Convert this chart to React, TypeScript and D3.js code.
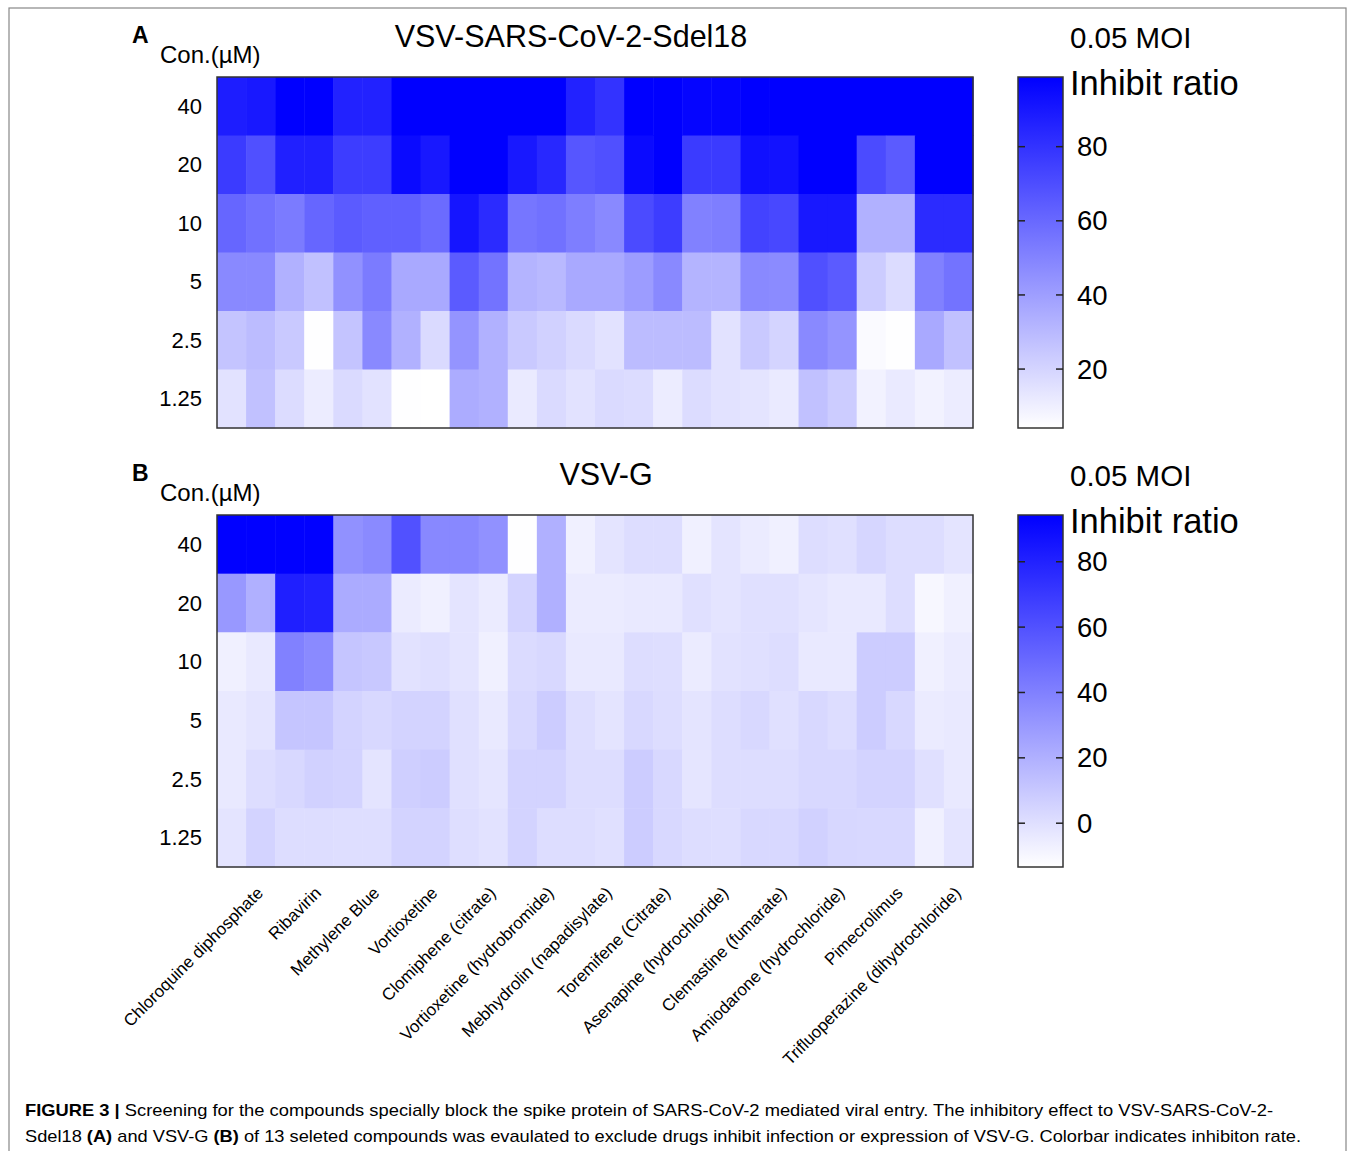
import React from 'react';
import * as d3 from 'd3';

const compounds = [
  'Chloroquine diphosphate', 'Ribavirin', 'Methylene Blue', 'Vortioxetine',
  'Clomiphene (citrate)', 'Vortioxetine (hydrobromide)', 'Mebhydrolin (napadisylate)',
  'Toremifene (Citrate)', 'Asenapine (hydrochloride)', 'Clemastine (fumarate)',
  'Amiodarone (hydrochloride)', 'Pimecrolimus', 'Trifluoperazine (dihydrochloride)'
];
const concentrations = ['40', '20', '10', '5', '2.5', '1.25'];
const replicates = ['r1', 'r2'];

// inhibit ratio, 26 columns (13 compounds x 2 replicates) per concentration
const sdel18Rows = [
  [88, 90, 99, 99, 86, 86, 99, 99, 99, 99, 99, 99, 86, 80, 99, 99, 97, 97, 99, 99, 99, 99, 99, 99, 99, 99],
  [77, 69, 87, 87, 76, 76, 95, 90, 99, 99, 90, 84, 67, 69, 95, 99, 77, 77, 93, 92, 99, 99, 71, 65, 99, 99],
  [61, 57, 53, 61, 65, 63, 63, 59, 91, 83, 55, 57, 52, 48, 71, 76, 51, 52, 74, 72, 90, 90, 33, 33, 83, 83],
  [48, 48, 33, 27, 45, 53, 36, 36, 65, 56, 32, 30, 36, 36, 41, 48, 32, 32, 48, 47, 69, 65, 23, 17, 51, 56],
  [26, 29, 24, 4.5, 26, 48, 33, 18, 44, 33, 24, 21, 18, 15, 29, 29, 29, 15, 24, 20, 48, 44, 6, 4.5, 36, 27],
  [15, 27, 17, 11, 18, 15, 4.5, 4, 35, 33, 12, 18, 15, 18, 17, 11, 17, 15, 14, 12, 27, 23, 9, 12, 9, 11]
];
const vsvgRows = [
  [94, 94, 94, 94, 33, 36, 60, 37, 37, 33, -13, 20, -7, -2, 1, 1, -7, -2, -5, -7, 1, -0.5, 4, 1, 1, -2],
  [30, 20, 81, 80, 22, 22, -5, -7, -2, -5, 5, 20, -5, -5, -4, -4, -0.5, -2, -0.5, -0.5, -2.5, -4, -4, 1, -10, -7],
  [-7, -4, 40, 36, 11, 10, -1, 0, -2, -7, 2, 3, -4, -4, 1, 0.5, -5, -1, -0.5, 1, -4, -4, 8, 8, -7, -5],
  [-4, -2, 11, 11, 5, 3, 5, 5, -0.5, -4, 3, 8, 0.5, -2, 3, 1, -2, 1, 3, -0.5, 3, 1, 8, 3, -5, -4],
  [-4, 1, 3, 6, 5, -2, 7, 8, -0.5, -2.5, 5, 5, 1, 1, 8, 3, -2.5, 1, 1, 1, 3, 3, 5, 5, -0.5, -4],
  [-2, 5, 1, 1, 0.5, 0.5, 5, 5, 0.5, -1, 5, 1, 1, -0.5, 8, 3, 1, 0.5, 3, 3, 6, 3.5, 3, 3, -7, -2]
];
const sdel18Domain = [4.1, 98.8];
const vsvgDomain = [-13.4, 94.3];
const sdel18Ticks = [20, 40, 60, 80];
const vsvgTicks = [0, 20, 40, 60, 80];

const FONT = '"Liberation Sans", Arial, Helvetica, sans-serif';
const W = 1355;
const H = 1151;
const heatLeft = 217;
const heatRight = 973;
const barLeft = 1018;
const barW = 45;

const columns = compounds.flatMap(c => replicates.map(r => `${c}|${r}`));
const x = d3.scaleBand().domain(columns).range([heatLeft, heatRight]);
const xCompound = d3.scaleBand().domain(compounds).range([heatLeft, heatRight]);

const Panel = ({ id, letter, title, titleX, top, bottom, rows, domain, ticks }) => {
  const y = d3.scaleBand().domain(concentrations).range([top, bottom]);
  const color = d3.scaleLinear<string>().domain(domain).range(['#ffffff', '#0000ff']).clamp(true);
  const yBar = d3.scaleLinear().domain(domain).range([bottom, top]);
  return (
    <g>
      <text x={132} y={top - 34} fontSize={23} fontWeight="bold" fontFamily={FONT}>{letter}</text>
      <text x={160} y={top - 14} fontSize={24} fontFamily={FONT}>Con.(µM)</text>
      <text x={titleX} y={top - 30} fontSize={30.5} textAnchor="middle" fontFamily={FONT}>{title}</text>
      {rows.map((row, i) =>
        row.map((v, j) => (
          <rect key={`${i}-${j}`} x={x(columns[j])} y={y(concentrations[i])}
            width={x.bandwidth() + 0.5} height={y.bandwidth() + 0.5} fill={color(v)} />
        ))
      )}
      <rect x={heatLeft} y={top} width={heatRight - heatLeft} height={bottom - top}
        fill="none" stroke="#333" strokeWidth={1.5} />
      {concentrations.map(c => (
        <text key={c} x={202} y={y(c) + y.bandwidth() / 2} dy="0.35em" textAnchor="end"
          fontSize={22} fontFamily={FONT}>{c}</text>
      ))}
      <defs>
        <linearGradient id={id} x1="0" y1="1" x2="0" y2="0">
          <stop offset="0%" stopColor={color(domain[0])} />
          <stop offset="100%" stopColor={color(domain[1])} />
        </linearGradient>
      </defs>
      <rect x={barLeft} y={top} width={barW} height={bottom - top} fill={`url(#${id})`}
        stroke="#333" strokeWidth={1.5} />
      {ticks.map(t => (
        <g key={t}>
          <line x1={barLeft} x2={barLeft + 7} y1={yBar(t)} y2={yBar(t)} stroke="#222" strokeWidth={1.5} />
          <line x1={barLeft + barW - 7} x2={barLeft + barW} y1={yBar(t)} y2={yBar(t)} stroke="#222" strokeWidth={1.5} />
          <text x={1077} y={yBar(t)} dy="0.35em" fontSize={27.5} fontFamily={FONT}>{t}</text>
        </g>
      ))}
      <text x={1070} y={top - 29} fontSize={29.5} fontFamily={FONT}>0.05 MOI</text>
      <text x={1070} y={top + 18} fontSize={34.5} fontFamily={FONT}>Inhibit ratio</text>
    </g>
  );
};

const App = () => {
  return (
    <svg width={W} height={H} style={{ position: 'absolute', left: 0, top: 0, background: '#fff' }}>
      <rect x={9} y={8} width={1337} height={H + 10} fill="#fff" stroke="#888" strokeWidth={1.2} />
      <Panel id="gradA" letter="A" title="VSV-SARS-CoV-2-Sdel18" titleX={571} top={77} bottom={428}
        rows={sdel18Rows} domain={sdel18Domain} ticks={sdel18Ticks} />
      <Panel id="gradB" letter="B" title="VSV-G" titleX={606} top={515} bottom={867}
        rows={vsvgRows} domain={vsvgDomain} ticks={vsvgTicks} />
      {compounds.map(c => {
        const cx = xCompound(c) + xCompound.bandwidth() / 2 + 18;
        return (
          <text key={c} transform={`translate(${cx},894) rotate(-45)`} textAnchor="end"
            fontSize={17} fontFamily={FONT}>{c}</text>
        );
      })}
      <text x={25} y={1116} fontSize={17} fontFamily={FONT} textLength={1248} lengthAdjust="spacingAndGlyphs">
        <tspan fontWeight="bold">FIGURE 3 | </tspan>
        Screening for the compounds specially block the spike protein of SARS-CoV-2 mediated viral entry. The inhibitory effect to VSV-SARS-CoV-2-
      </text>
      <text x={25} y={1142} fontSize={17} fontFamily={FONT} textLength={1276} lengthAdjust="spacingAndGlyphs">
        Sdel18 <tspan fontWeight="bold">(A)</tspan> and VSV-G <tspan fontWeight="bold">(B)</tspan> of 13 seleted compounds was evaulated to exclude drugs inhibit infection or expression of VSV-G. Colorbar indicates inhibiton rate.
      </text>
    </svg>
  );
};

export default App;
